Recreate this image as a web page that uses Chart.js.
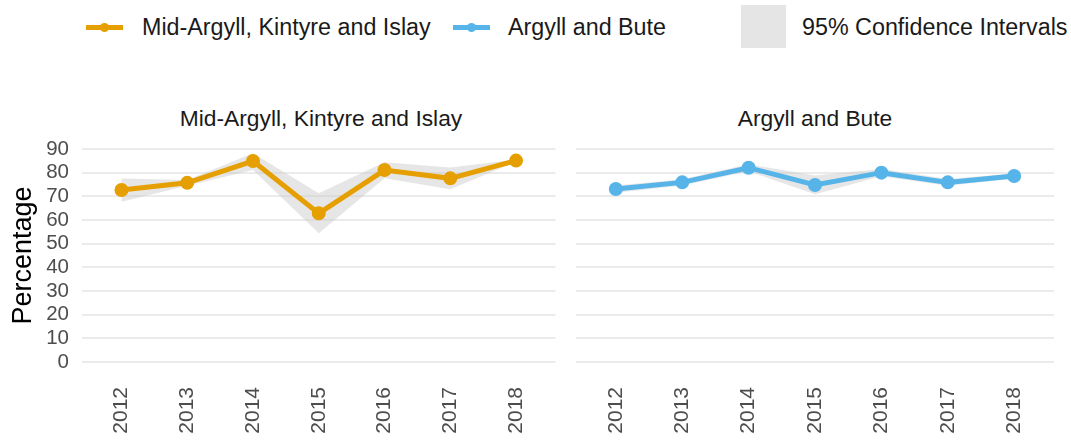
<!DOCTYPE html>
<html>
<head>
<meta charset="utf-8">
<script src="https://cdn.jsdelivr.net/npm/chart.js@4"></script>
<style>
  body { margin: 0; background: #fff; font-family: "Liberation Sans", Arial, sans-serif; }
  #wrap { position: relative; width: 1071px; height: 442px; overflow: hidden; }
  .txt { position: absolute; white-space: nowrap; color: #1a1a1a; line-height: 1; }
  .leg { font-size: 23.3px; top: 16px; }
  .title { font-size: 22.8px; top: 107px; transform: translateX(-50%); }
  .sw { position: absolute; height: 5px; top: 25px; width: 37px; }
  .dot { position: absolute; width: 9px; height: 9px; border-radius: 5px; top: -2px; left: 14px; }
  canvas { position: absolute; }
</style>
</head>
<body>
<div id="wrap">
  <div class="sw" style="left:86px;background:#E69F00"><div class="dot" style="background:#E69F00"></div></div>
  <div class="txt leg" style="left:142px">Mid-Argyll, Kintyre and Islay</div>
  <div class="sw" style="left:453px;background:#56B4E9"><div class="dot" style="background:#56B4E9"></div></div>
  <div class="txt leg" style="left:508px">Argyll and Bute</div>
  <div style="position:absolute;left:741px;top:5px;width:45px;height:43px;background:#e5e5e5"></div>
  <div class="txt leg" style="left:802px">95% Confidence Intervals</div>

  <div class="txt title" style="left:321px">Mid-Argyll, Kintyre and Islay</div>
  <div class="txt title" style="left:815px">Argyll and Bute</div>

  <div style="position:absolute;left:0;top:135px;width:565px;height:307px"><canvas id="left"></canvas></div>
  <div style="position:absolute;left:565px;top:135px;width:506px;height:307px"><canvas id="right"></canvas></div>
</div>
<script>
// data
var years = [2012, 2013, 2014, 2015, 2016, 2017, 2018];
var yTicks = [0, 10, 20, 30, 40, 50, 60, 70, 80, 90];

var midValues = [72.7, 75.7, 84.9, 62.8, 81.1, 77.6, 85.1];
var midLower  = [67.7, 74.5, 81.1, 54.4, 77.6, 73.0, 84.6];
var midUpper  = [77.5, 76.9, 88.2, 71.3, 84.4, 82.2, 85.6];

var abValues = [73.1, 75.9, 82.1, 74.8, 80.0, 75.9, 78.6];
var abLower  = [71.5, 74.6, 80.6, 70.9, 78.5, 74.5, 77.5];
var abUpper  = [74.6, 77.2, 83.6, 78.8, 81.5, 77.3, 79.6];

var FONT = "'Liberation Sans', Arial, sans-serif";

function pts(vals){
  return years.map(function(y, i){ return {x: y, y: vals[i]}; });
}

function makePanel(id, color, vals, lo, hi, showY){
  var ctx = document.getElementById(id);
  return new Chart(ctx, {
    type: 'line',
    data: {
      datasets: [{
        data: pts(vals),
        borderColor: color,
        backgroundColor: color,
        borderWidth: 5,
        pointRadius: 4.5,
        pointHoverRadius: 4.5,
        fill: false,
        tension: 0
      }, {
        data: pts(hi),
        borderWidth: 0,
        pointRadius: 0,
        backgroundColor: 'rgba(200,200,200,0.45)',
        fill: '+1'
      }, {
        data: pts(lo),
        borderWidth: 0,
        pointRadius: 0,
        fill: false
      }]
    },
    options: {
      responsive: true,
      maintainAspectRatio: false,
      animation: false,
      layout: { padding: { left: 0, right: showY ? 4 : 17, top: 14, bottom: 0 } },
      plugins: { legend: { display: false }, tooltip: { enabled: false } },
      scales: {
        x: {
          type: 'linear',
          min: 2011.4,
          max: 2018.6,
          afterBuildTicks: function(s){ s.ticks = years.map(function(v){ return {value: v}; }); },
          afterFit: function(s){ s.height = 80; },
          grid: { display: false },
          border: { display: false },
          ticks: {
            maxRotation: 90,
            minRotation: 90,
            autoSkip: false,
            padding: 17,
            color: '#4d4d4d',
            font: { family: FONT, size: 21 },
            callback: function(v){ return String(v); }
          }
        },
        y: {
          min: 0,
          max: 90,
          afterBuildTicks: function(s){ s.ticks = yTicks.map(function(v){ return {value: v}; }); },
          afterFit: function(s){
            s.width = showY ? 82 : 11;
            s.paddingTop = 0;
            s.paddingBottom = 0;
          },
          border: { display: false },
          grid: { color: '#ebebeb', lineWidth: 2, drawTicks: false },
          ticks: {
            display: showY,
            autoSkip: false,
            padding: 13,
            color: '#4d4d4d',
            font: { family: FONT, size: 20.5, lineHeight: 1 }
          },
          title: {
            display: showY,
            text: 'Percentage',
            color: '#000',
            font: { family: FONT, size: 27 },
            padding: { top: 7, bottom: 0 }
          }
        }
      }
    }
  });
}

makePanel('left', '#E69F00', midValues, midLower, midUpper, true);
makePanel('right', '#56B4E9', abValues, abLower, abUpper, false);
</script>
</body>
</html>
